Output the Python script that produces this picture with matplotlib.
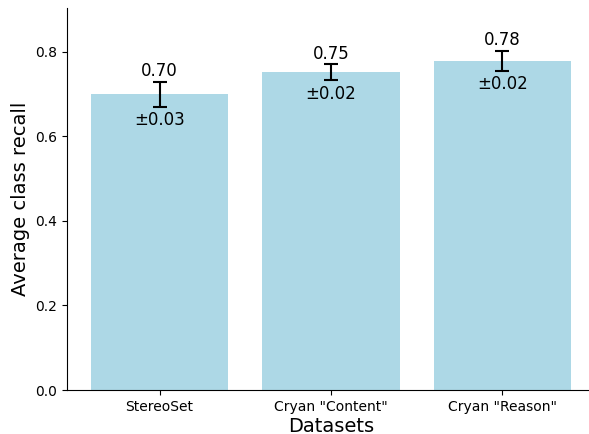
import matplotlib
matplotlib.use("Agg")
import matplotlib.pyplot as plt

datasets = ['StereoSet', 'Cryan "Content"', 'Cryan "Reason"']
recall_mean = [0.699, 0.751, 0.778]
recall_std = [0.030, 0.019, 0.024]

fig = plt.figure(figsize=(5.89, 4.34), dpi=100)
ax = fig.add_axes([67 / 589, 44 / 434, 528 / 589, 382 / 434])

x = range(len(datasets))
ax.bar(x, recall_mean, yerr=recall_std, color='lightblue', capsize=5,
       error_kw={'ecolor': 'black', 'elinewidth': 1.5, 'capthick': 1.5})

# mean above the error bar, spread just below it
for i, (m, s) in enumerate(zip(recall_mean, recall_std)):
    ax.annotate(f'{m:.2f}', (i, m + s), xytext=(0, 1), textcoords='offset points',
                ha='center', va='bottom', fontsize=12)
    ax.annotate(f'±{s:.2f}', (i, m - s), xytext=(0, -3), textcoords='offset points',
                ha='center', va='top', fontsize=12)

ax.set_xticks(list(x))
ax.set_xticklabels(datasets)
ax.set_xlim(-0.54, 2.54)
ax.set_ylim(0, 0.903)
ax.set_xlabel('Datasets', fontsize=14, labelpad=2)
ax.set_ylabel('Average class recall', fontsize=14)
ax.spines['top'].set_visible(False)
ax.spines['right'].set_visible(False)

fig.savefig('out.png', dpi=100)
